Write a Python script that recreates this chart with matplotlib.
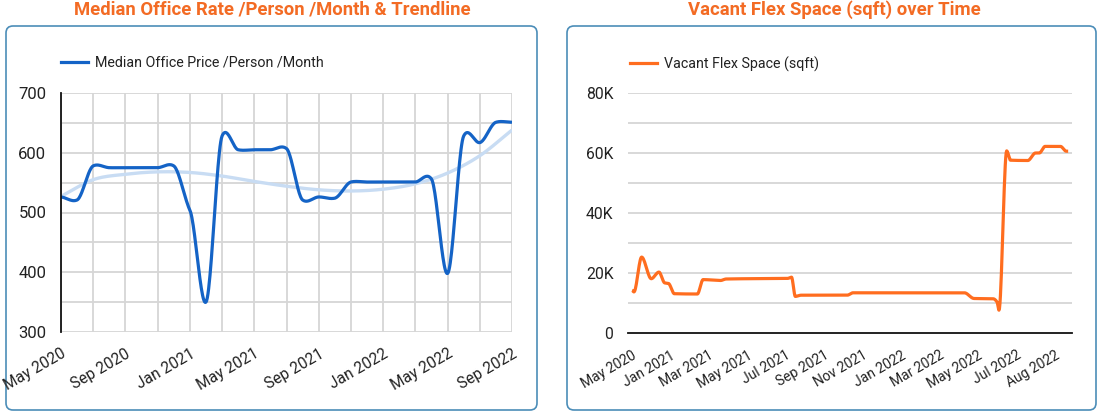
import numpy as np
import matplotlib
matplotlib.use("Agg")
import matplotlib.pyplot as plt
from matplotlib.patches import FancyBboxPatch
from matplotlib.transforms import IdentityTransform
from matplotlib.lines import Line2D

plt.rcParams['font.family'] = ['Roboto', 'DejaVu Sans']

# ---------------- data: left chart (monthly, May 2020 .. Sep 2022) ----------------
months = list(range(29))
price_values = [526, 521, 578, 575, 575, 575, 575, 578, 504, 350,
                628, 605, 605, 605, 607, 521, 526, 524, 551, 551,
                551, 551, 551, 556, 398, 628, 617, 651, 651]
trend_months = [0, 2, 4, 6, 8, 10, 12, 14, 16, 18, 20, 22, 24, 26, 28]
trend_values = [527, 555, 564, 568, 567, 561, 552, 544, 538, 536, 539, 548, 566, 595, 638]
left_tick_pos = [0, 4, 8, 12, 16, 20, 24, 28]
left_tick_labels = ['May 2020', 'Sep 2020', 'Jan 2021', 'May 2021',
                    'Sep 2021', 'Jan 2022', 'May 2022', 'Sep 2022']

# ---------------- data: right chart (record index, value) ----------------
flex_idx = [0, 1, 5, 10, 14, 17, 19, 22, 34, 37, 46, 49, 81, 83, 85, 88, 112, 115,
            173, 178, 188, 190, 191, 195, 197, 206, 210, 212, 215, 223, 226, 227]
flex_vals = [14200, 13700, 25300, 18100, 20300, 16700, 16500, 13100, 13000, 17800,
             17500, 18000, 18200, 18600, 12200, 12600, 12600, 13400,
             13400, 11500, 11400, 10300, 7600, 60700, 57600, 57500, 60000, 60000,
             62200, 62200, 60600, 60600]
right_tick_pos = [0, 20, 40, 60, 80, 100, 120, 140, 160, 180, 200, 220]
right_tick_labels = ['May 2020', 'Jan 2021', 'Mar 2021', 'May 2021', 'Jul 2021',
                     'Sep 2021', 'Nov 2021', 'Jan 2022', 'Mar 2022', 'May 2022',
                     'Jul 2022', 'Aug 2022']

ORANGE_T = '#f36b24'
BLUE = '#1463c6'
TREND = '#c8dcf3'
ORANGE = '#ff6d1f'
BORDER = '#4b8db8'
TXT = '#222222'
GRID = '#d6d6d6'


def cardinal(x, y, s=0.5, n=24):
    x = np.asarray(x, float); y = np.asarray(y, float)
    m = np.zeros_like(y)
    m[1:-1] = s * (y[2:] - y[:-2]) / (x[2:] - x[:-2])
    m[0] = s * (y[1] - y[0]) / (x[1] - x[0])
    m[-1] = s * (y[-1] - y[-2]) / (x[-1] - x[-2])
    xs, ys = [], []
    for k in range(len(x) - 1):
        h = x[k + 1] - x[k]
        t = np.linspace(0, 1, n, endpoint=(k == len(x) - 2))
        h00 = 2 * t**3 - 3 * t**2 + 1
        h10 = t**3 - 2 * t**2 + t
        h01 = -2 * t**3 + 3 * t**2
        h11 = t**3 - t**2
        xs.append(x[k] + t * h)
        ys.append(h00 * y[k] + h10 * h * m[k] + h01 * y[k + 1] + h11 * h * m[k + 1])
    return np.concatenate(xs), np.concatenate(ys)


def pchip(x, y, n=16):
    x = np.asarray(x, float); y = np.asarray(y, float)
    h = np.diff(x); d = np.diff(y) / h
    m = np.zeros_like(y)
    for k in range(1, len(x) - 1):
        if d[k - 1] * d[k] <= 0:
            m[k] = 0
        else:
            w1 = 2 * h[k] + h[k - 1]; w2 = h[k] + 2 * h[k - 1]
            m[k] = (w1 + w2) / (w1 / d[k - 1] + w2 / d[k])
    m[0] = 0; m[-1] = 0
    xs, ys = [], []
    for k in range(len(x) - 1):
        t = np.linspace(0, 1, n, endpoint=(k == len(x) - 2))
        hk = h[k]
        h00 = 2 * t**3 - 3 * t**2 + 1
        h10 = t**3 - 2 * t**2 + t
        h01 = -2 * t**3 + 3 * t**2
        h11 = t**3 - t**2
        xs.append(x[k] + t * hk)
        ys.append(h00 * y[k] + h10 * hk * m[k] + h01 * y[k + 1] + h11 * hk * m[k + 1])
    return np.concatenate(xs), np.concatenate(ys)


W, H = 1100, 413
fig = plt.figure(figsize=(W / 100, H / 100), dpi=100)
fig.patch.set_facecolor('white')


def px_axes(x0, y0, x1, y1):
    a = fig.add_axes([x0 / W, 1 - y1 / H, (x1 - x0) / W, (y1 - y0) / H])
    a.set_zorder(2)
    return a


# boxes (display pixel coordinates, origin bottom-left)
for (bx0, bx1) in [(6, 537), (567, 1096)]:
    box = FancyBboxPatch((bx0, H - 410), bx1 - bx0, 410 - 26,
                         boxstyle="round,pad=0,rounding_size=7",
                         transform=IdentityTransform(), facecolor='white',
                         edgecolor=BORDER, linewidth=1.2, zorder=-10)
    fig.patches.append(box)

fig.text(272 / W, 1 - 10 / H, 'Median Office Rate /Person /Month & Trendline',
         ha='center', va='center', color=ORANGE_T, fontsize=13.3, fontweight='bold')
fig.text(834 / W, 1 - 10 / H, 'Vacant Flex Space (sqft) over Time',
         ha='center', va='center', color=ORANGE_T, fontsize=13.3, fontweight='bold')

# ---------------- left chart ----------------
ax = px_axes(61, 93, 512, 332)
ax.set_facecolor('none')
ax.set_xlim(0, 28)
ax.set_ylim(300, 700)
ax.set_xticks(range(0, 29, 2))
ax.set_xticklabels([left_tick_labels[left_tick_pos.index(m)] if m in left_tick_pos else ''
                    for m in range(0, 29, 2)])
ax.set_yticks(range(300, 701, 50))
ax.set_yticklabels([str(v) if v % 100 == 0 else '' for v in range(300, 701, 50)])
for gx in range(0, 29, 2):
    ax.axvline(gx, color=GRID, lw=1.3, zorder=1)
for gy in range(300, 701, 50):
    ax.axhline(gy, color=GRID, lw=1.3, zorder=1)
tx, ty = cardinal(trend_months, trend_values, s=1.0)
ax.plot(tx, ty, color=TREND, lw=2.4, zorder=2, solid_capstyle='butt')
px, py = cardinal(months, price_values, s=0.5)
ax.plot(px, py, color=BLUE, lw=2.3, zorder=3, solid_capstyle='butt')
for s in ['top', 'right', 'bottom']:
    ax.spines[s].set_visible(False)
ax.spines['left'].set_color('#111111')
ax.spines['left'].set_linewidth(1.3)
ax.spines['left'].set_zorder(4)
ax.tick_params(axis='both', length=0, colors=TXT)
ax.tick_params(axis='y', pad=10.5, labelsize=12)
ax.tick_params(axis='x', pad=10, labelsize=11.2)
for lab in ax.get_xticklabels():
    lab.set_rotation(30)
    lab.set_ha('right')
    lab.set_va('top')
    lab.set_rotation_mode('anchor')
ax.legend(handles=[Line2D([], [], color=BLUE, lw=2.3)],
          labels=['Median Office Price /Person /Month'],
          loc='center left', bbox_to_anchor=(0.0, (332 - 63) / 239),
          frameon=False, fontsize=10.3, handlelength=1.9, handletextpad=0.5,
          borderpad=0, borderaxespad=0, labelcolor=TXT)

# ---------------- right chart ----------------
ax2 = px_axes(628, 93, 1072, 333)
ax2.set_facecolor('none')
ax2.set_xlim(-2.1, 229)
ax2.set_ylim(0, 80000)
ax2.set_yticks(range(0, 80001, 10000))
ax2.set_yticklabels([('0' if v == 0 else f'{v // 1000}K') if v % 20000 == 0 else ''
                     for v in range(0, 80001, 10000)])
ax2.set_xticks(right_tick_pos)
ax2.set_xticklabels(right_tick_labels)
for gy in range(10000, 80001, 10000):
    ax2.axhline(gy, color=GRID, lw=1.3, zorder=1)
fx, fy = pchip(flex_idx, flex_vals)
ax2.plot(fx, fy, color=ORANGE, lw=2.3, zorder=3, solid_capstyle='butt')
for s in ['top', 'right', 'left']:
    ax2.spines[s].set_visible(False)
ax2.spines['bottom'].set_color('#111111')
ax2.spines['bottom'].set_linewidth(1.3)
ax2.tick_params(axis='both', length=0, colors=TXT)
ax2.tick_params(axis='y', pad=10.5, labelsize=11.3)
ax2.tick_params(axis='x', pad=11, labelsize=10)
for lab in ax2.get_xticklabels():
    lab.set_rotation(30)
    lab.set_ha('right')
    lab.set_va('top')
    lab.set_rotation_mode('anchor')
ax2.legend(handles=[Line2D([], [], color=ORANGE, lw=2.3)],
           labels=['Vacant Flex Space (sqft)'],
           loc='center left', bbox_to_anchor=(2 / 444, (333 - 64) / 240),
           frameon=False, fontsize=10.3, handlelength=1.9, handletextpad=0.5,
           borderpad=0, borderaxespad=0, labelcolor=TXT)

fig.savefig('out.png', dpi=100, facecolor='white')
